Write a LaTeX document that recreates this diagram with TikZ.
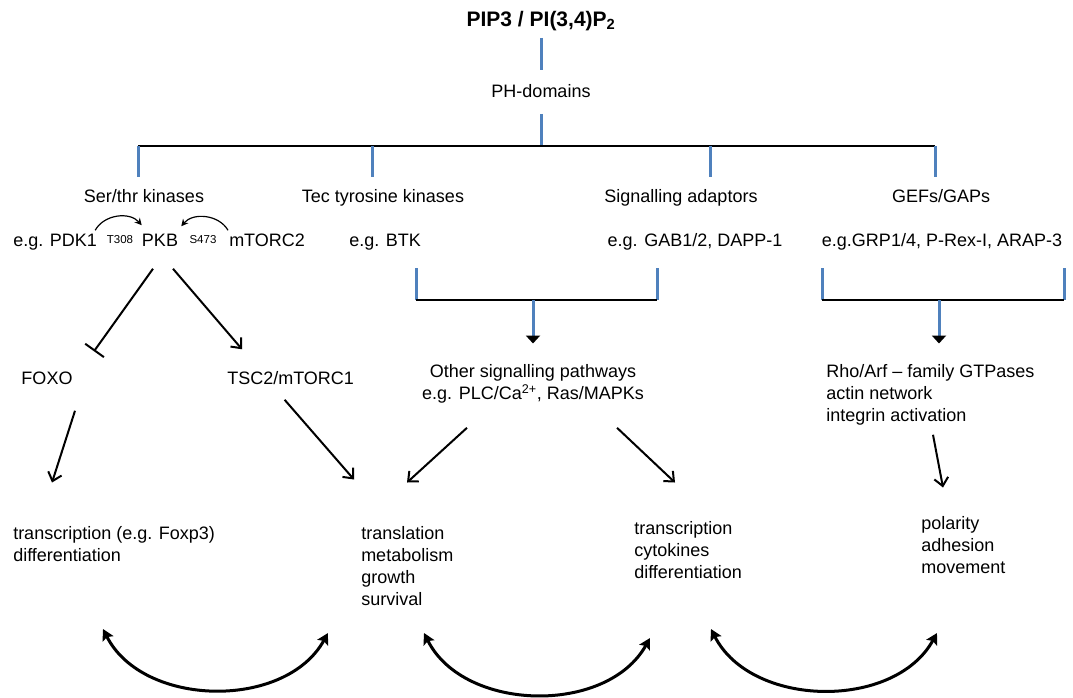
\documentclass[tikz,border=0pt]{standalone}
\usepackage{fontspec}
\setmainfont{Liberation Sans}
\usetikzlibrary{arrows.meta,calc}
\definecolor{phblue}{RGB}{79,129,189}

\begin{document}
\begin{tikzpicture}[x=1pt, y=1pt, line width=2.5pt,
  lbl/.style={inner sep=2pt, font=\fontsize{18}{22}\selectfont, text height=13pt, text depth=4pt},
  lst/.style={inner sep=0pt, align=left, anchor=north west, font=\fontsize{18}{22}\selectfont},
  site/.style={inner sep=1pt, font=\fontsize{11.5}{13}\selectfont},
  blueline/.style={draw=phblue, line width=3pt},
  headarr/.style={-{Triangle[length=8pt,width=14pt,color=black]}},
  arr/.style={-{Straight Barb[length=8pt,width=14pt]}, line width=2pt},
  inhib/.style={-{Bar[width=23pt]}, line width=2pt},
  thinarr/.style={-{Stealth[length=7pt,width=7pt]}, line width=1.2pt},
  looparr/.style={{Stealth[length=11pt,width=12pt,inset=2pt]}-{Stealth[length=11pt,width=12pt,inset=2pt]}, line width=3pt}]
  \useasboundingbox (0,0) rectangle (1073,-697);

  % top of the tree
  \node[lbl, font=\bfseries\fontsize{21}{24}\selectfont] (pip) at (541,-22) {PIP3 / PI(3,4)P\textsubscript{2}};
  \node[lbl] (ph) at (541,-93) {PH-domains};
  \draw[blueline, shorten <=4pt, shorten >=11pt] (pip) -- (ph);

  \coordinate (barL) at (138,-146);
  \coordinate (barR) at (935,-146);
  \draw[blueline, shorten <=9pt] (ph) -- (ph |- barL);
  \draw (barL) -- (barR);

  \foreach \x/\lx/\name/\txt in {138/144/ser/{Ser/thr kinases}, 372/383/tec/{Tec tyrosine kinases},
                                 710/681/sig/{Signalling adaptors}, 935/941/gef/{GEFs/GAPs}} {
    \coordinate (\name-top) at (\x,-146);
    \node[lbl] (\name) at (\lx,-198) {\txt};
    \draw[blueline, shorten >=9.5pt] (\name-top) -- (\name-top |- \name.north);
  }

  % examples
  \node[lbl, anchor=west] (pdk) at (10,-242) {e.g. PDK1};
  \node[site] (t308) at (120,-240) {T308};
  \node[lbl] (pkb) at (160,-242) {PKB};
  \node[site] (s473) at (203,-240) {S473};
  \node[lbl, anchor=west] (mtorc2) at (226,-242) {mTORC2};
  \draw[thinarr] ([xshift=-5pt]pdk.north east) to[bend left=55] ([shift={(3,5)}]pkb.north west);
  \draw[thinarr] ([xshift=2pt]mtorc2.north west) to[bend right=55] ([yshift=4pt]pkb.north east);

  \node[lbl, anchor=west] (btk) at (346,-242) {e.g. BTK};
  \node[lbl] (gab) at (695,-242) {e.g. GAB1/2, DAPP-1};
  \node[lbl] (grp) at (942,-242) {e.g.GRP1/4, P-Rex-I, ARAP-3};

  % brackets
  \coordinate (adL) at (416,-300);
  \coordinate (adR) at (657,-300);
  \coordinate (adM) at (533,-300);
  \coordinate (gefL) at (822,-300);
  \coordinate (gefR) at (1064,-300);
  \coordinate (gefM) at (939,-300);
  \foreach \c in {adL, adR, gefL, gefR}
    \draw[blueline] (\c) -- ++(0,32);
  \draw (adL) -- (adR);
  \draw (gefL) -- (gefR);

  \node[inner sep=0pt, align=center, anchor=north, font=\fontsize{18}{22}\selectfont] (other) at (533,-363.5)
    {Other signalling pathways\\e.g. PLC/Ca\textsuperscript{2+}, Ras/MAPKs};
  \node[lst] (rho) at (825,-363.5) {Rho/Arf -- family GTPases\\actin network\\integrin activation};
  \draw[blueline, headarr, shorten >=20pt] (adM) -- (adM |- other.north);
  \draw[blueline, headarr, shorten >=20pt] (gefM) -- (gefM |- rho.north);

  % PKB targets
  \node[lbl] (foxo) at (47,-380) {FOXO};
  \node[lbl, anchor=west] (tsc) at (224,-380) {TSC2/mTORC1};
  \draw[inhib] ([shift={(-7,-15)}]pkb.south) -- ([shift={(47,17)}]foxo.north);
  \draw[arr] ([shift={(13,-15)}]pkb.south) -- ([shift={(18,19)}]tsc.north west);

  % outcomes
  \node[lst] (out1) at (12,-525.5) {transcription (e.g. Foxp3)\\differentiation};
  \node[lst] (out2) at (360,-525.5) {translation\\metabolism\\growth\\survival};
  \node[lst] (out3) at (633,-520.5) {transcription\\cytokines\\differentiation};
  \node[lst] (out4) at (920,-515.5) {polarity\\adhesion\\movement};

  \draw[arr] ([shift={(28,-19)}]foxo.south) -- ([shift={(40,43)}]out1.north west);
  \draw[arr] ([shift={(-6,-8)}]tsc.south) -- ([shift={(-6,46)}]out2.north west);
  \draw[arr] ([shift={(-66,-23)}]other.south) -- ([shift={(47,43)}]out2.north west);
  \draw[arr] ([shift={(84,-23)}]other.south) -- ([shift={(42,38)}]out3.north west);
  \draw[arr] ([shift={(108,-8)}]rho.south west) -- ([shift={(23,28)}]out4.north west);

  % feedback between outcomes
  \foreach \xa/\ya/\xb/\yb in {103/629/328/633, 424/633/650/638, 711/629/937/633}
    \draw[looparr] (\xa,-\ya) to[bend right=62] (\xb,-\yb);
\end{tikzpicture}
\end{document}
